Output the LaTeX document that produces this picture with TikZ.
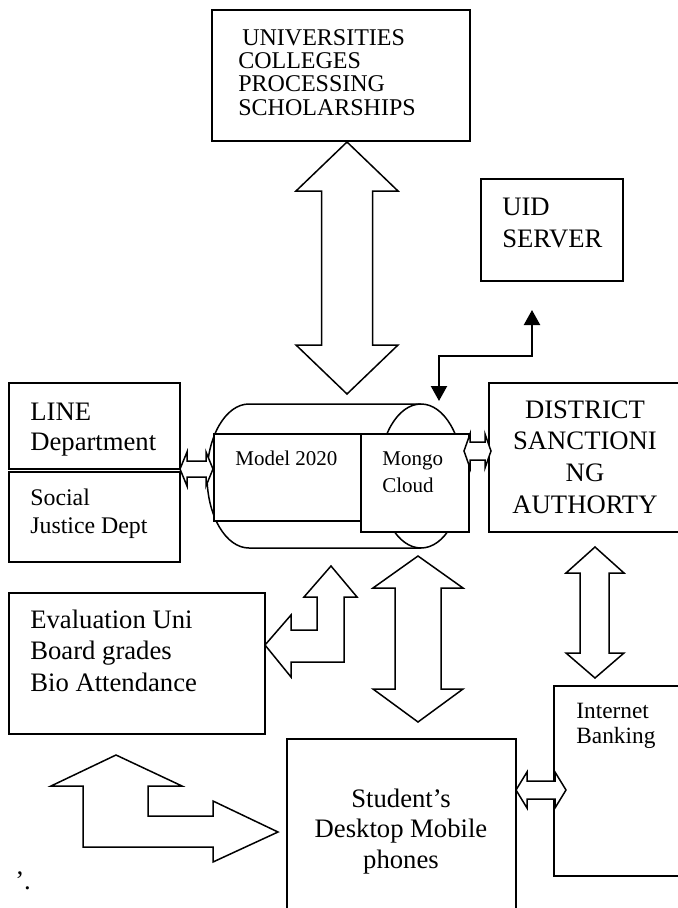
\documentclass[tikz,border=0pt]{standalone}
\usepackage{fontspec}
\setmainfont{Liberation Serif}
\usetikzlibrary{fit,arrows.meta}
\newcommand\fsz[2]{\fontsize{#1}{#2}\selectfont}

\begin{document}
\begin{tikzpicture}
  [x=0.6pt,y=-0.6pt,
    >={Triangle[width=9.6pt,length=9pt]},
    box/.style={draw,line width=0.9pt,inner sep=0pt},
    whitebox/.style={box,fill=white},
    boxtext/.style={inner sep=0pt,align=left,anchor=base west},
    centertext/.style={inner sep=0pt,align=center,anchor=base},
    blockarrow/.style={draw,fill=white,line width=0.9pt,line join=miter},
  ]
  \useasboundingbox (0,0) rectangle (678,908);

  % boxes
  \node[box,fit={(212,10) (470,141)}] (univ) {};
  \node[box,fit={(481,179) (623,281)}] (uid) {};
  \node[box,fit={(9,383) (180,469)}] (line) {};
  \node[box,fit={(9,472) (180,562)}] (social) {};
  \node[box,fit={(489,383) (690,532)}] (district) {};
  \node[box,fit={(9,593) (265,734)}] (eval) {};
  \node[box,fit={(554,686) (690,876)}] (bank) {};
  \node[box,fit={(287,739) (516,930)}] (student) {};

  % cylinder
  \coordinate (cyl) at (335,476);
  \draw[line width=0.9pt] (421,404) -- (249,404)
    arc[start angle=270,end angle=90,x radius=42,y radius=72] -- (421,548);
  \draw[line width=0.9pt] (421,476) ellipse [x radius=42,y radius=72];
  \node[whitebox,fit={(214,434) (361,521)}] (model) {};
  \node[whitebox,fit={(361,434) (469,532)}] (cloud) {};

  % texts (base = last line)
  \node[boxtext,font=\fsz{14.4}{14}] (univtext) at (238,115)
    {\hspace*{2.4pt}UNIVERSITIES\\COLLEGES\\PROCESSING\\SCHOLARSHIPS};
  \node[boxtext,font=\fsz{16}{19}] (uidtext) at (502,247) {UID\\SERVER};
  \node[boxtext,font=\fsz{16}{18}] (linetext) at (30,450) {LINE\\Department};
  \node[boxtext,font=\fsz{14.3}{16.4}] (socialtext) at (30,533) {Social\\Justice Dept};
  \node[boxtext,font=\fsz{16}{18.9}] (evaltext) at (30,691)
    {Evaluation Uni\\Board grades\\Bio Attendance};
  \node[boxtext,font=\fsz{12.6}{14}] (modeltext) at (235,465) {Model 2020};
  \node[boxtext,font=\fsz{12.6}{16.2}] (cloudtext) at (382,492) {Mongo\\Cloud};
  \node[centertext,font=\fsz{16}{19}] (districttext) at (585,513)
    {DISTRICT\\SANCTIONI\\NG\\AUTHORTY};
  \node[boxtext,font=\fsz{14}{14.6}] (banktext) at (576,743) {Internet\\Banking};
  \node[centertext,font=\fsz{16}{18.3}] (studenttext) at (401,868)
    {Student’s\\Desktop Mobile\\phones};
  \node[boxtext,font=\fsz{16}{19}] (stray) at (15,889) {’.};

  % block arrows
  \draw[blockarrow] (347,142) -- (398,191) -- (372.5,191) -- (372.5,345) -- (398,345)
    -- (347,394) -- (296,345) -- (321.5,345) -- (321.5,191) -- (296,191) -- cycle;
  \draw[blockarrow] (418,556) -- (463,588) -- (441,588) -- (441,689) -- (463,689)
    -- (418,722) -- (373,689) -- (395,689) -- (395,588) -- (373,588) -- cycle;
  \draw[blockarrow] (595,547) -- (624,573) -- (609,573) -- (609,653) -- (624,653)
    -- (595,678) -- (566,653) -- (580,653) -- (580,573) -- (566,573) -- cycle;
  \draw[blockarrow] (180,469) -- (187,452) -- (187,461) -- (206,461) -- (206,452)
    -- (213,469) -- (206,486) -- (206,477) -- (187,477) -- (187,486) -- cycle;
  \draw[blockarrow] (464,451) -- (470,434) -- (470,442) -- (485,442) -- (485,434)
    -- (491,451) -- (485,468) -- (485,460) -- (470,460) -- (470,468) -- cycle;
  \draw[blockarrow] (516,790) -- (527,772) -- (527,781) -- (555,781) -- (555,772)
    -- (566,790) -- (555,808) -- (555,799) -- (527,799) -- (527,808) -- cycle;
  \draw[blockarrow] (331,566) -- (357,597) -- (344,597) -- (344,662) -- (291,662)
    -- (291,677) -- (265,645) -- (291,615) -- (291,630) -- (317,630) -- (317,597)
    -- (304,597) -- cycle;
  \draw[blockarrow] (116,755) -- (182,786) -- (148,786) -- (148,816) -- (213,816)
    -- (213,801) -- (278,832) -- (213,862) -- (213,847) -- (83,847) -- (83,786)
    -- (51,786) -- cycle;

  % cloud <-> uid
  \coordinate (cloudtip) at (439,401);
  \coordinate (elbow) at (485,356);
  \coordinate (uidtip) at (532,310);
  \draw[line width=1.3pt,<->] (cloudtip) |- (elbow) -| (uidtip);
\end{tikzpicture}
\end{document}
